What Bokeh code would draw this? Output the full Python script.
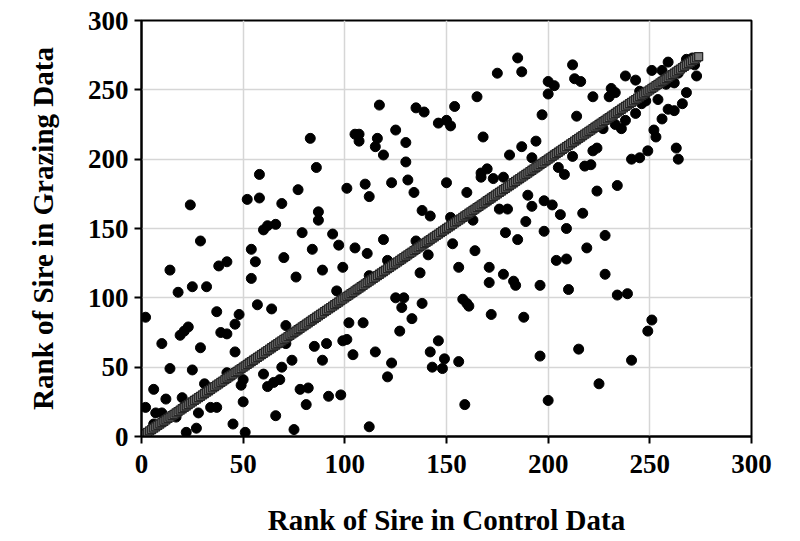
from bokeh.plotting import figure
from bokeh.models import FixedTicker, Range1d
from bokeh.embed import file_html
from bokeh.resources import INLINE

# Rank of sire in control data (x) and in grazing data (y)
control_rank = [83, 185, 175, 187, 200, 203, 200, 165, 117, 135, 139, 154, 197, 146, 150, 152,
                105, 107, 107, 116, 115, 125, 130, 119, 130, 168, 194, 187, 181, 192,
                212, 213, 216, 214, 222, 230, 231, 233, 238, 243, 245, 248, 246, 243, 238,
                233, 236, 227, 251, 256, 259, 260, 258, 262, 264, 268, 271, 272, 273, 268,
                254, 259, 262, 266, 256, 252, 253, 263, 249, 222, 224, 212, 241, 245, 264,
                205, 208, 218, 221, 234, 224, 198, 202, 206, 217, 198, 209, 228, 219, 204,
                209, 228, 196, 210, 234, 239, 251, 249, 215, 196, 241, 225, 200,
                125, 129, 128, 138, 158, 160, 161, 172, 188, 102, 109, 133, 127, 99, 101,
                104, 115, 146, 142, 149, 143, 148, 156, 123, 121, 98, 159, 112,
                101, 110, 112, 123, 131, 134, 138, 142, 150, 160, 167, 170, 167, 173, 178,
                152, 163, 176, 180, 190, 192, 189, 179, 185, 119, 135, 97, 105, 111, 141,
                153, 164, 121, 99, 112, 137, 156, 171, 178, 183, 184, 171, 96,
                86, 58, 77, 24, 52, 58, 69, 87, 87, 60, 62, 66, 79, 94, 29, 54, 84, 38, 42,
                56, 70, 14, 89, 54, 76, 18, 25, 32,
                2, 37, 48, 46, 57, 64, 71, 19, 21, 23, 39, 42, 10, 29, 46, 71, 85, 91, 89,
                74, 14, 25, 42, 50, 49, 60, 69, 62, 65, 68, 78, 82, 92, 81, 31, 6, 20, 12,
                2, 7, 10, 17, 28, 34, 37, 50, 6, 22, 27, 45, 66, 75, 51]
grazing_rank = [215, 273, 262, 263, 256, 253, 247, 245, 239, 237, 234, 238, 232, 226, 228, 224,
                218, 218, 213, 215, 209, 221, 212, 203, 198, 216, 213, 209, 203, 201,
                268, 258, 256, 231, 245, 245, 251, 248, 260, 257, 249, 242, 240, 233, 228,
                225, 222, 222, 264, 264, 270, 258, 254, 255, 262, 272, 273, 268, 260, 248,
                243, 236, 235, 240, 229, 221, 216, 208, 206, 206, 208, 202, 200, 201, 200,
                194, 189, 195, 196, 181, 177, 170, 167, 160, 161, 148, 150, 145, 136, 127,
                128, 117, 109, 106, 102, 103, 84, 76, 63, 58, 55, 38, 26,
                100, 100, 93, 96, 99, 96, 94, 88, 86, 82, 82, 85, 76, 69, 70,
                59, 61, 69, 61, 56, 50, 49, 54, 53, 43, 30, 23, 7,
                179, 182, 173, 183, 185, 176, 163, 159, 183, 176, 190, 193, 187, 186, 187,
                158, 156, 164, 164, 174, 166, 155, 147, 142, 142, 141, 138, 136, 132, 131,
                139, 134, 127, 122, 116, 118, 122, 122, 117, 112, 109, 111, 105,
                194, 189, 178, 167, 171, 172, 168, 162, 156, 149, 152, 153, 147, 146, 141, 135, 135, 123, 126,
                126, 129, 120, 120, 114, 115, 104, 108, 108,
                86, 90, 88, 81, 95, 92, 80, 73, 76, 79, 75, 74, 67, 64, 61, 67, 65, 67, 55,
                55, 49, 48, 46, 41, 37, 45, 50, 36, 39, 41, 34, 35, 29, 23, 38, 34, 28, 27,
                21, 17, 17, 14, 17, 21, 21, 25, 9, 3, 6, 9, 15, 5, 3]

# Equal-rank reference line (rank in control = rank in grazing), sires 0..274
n_sires = 275
diag = list(range(n_sires))

x_ticks = [0, 50, 100, 150, 200, 250, 300]
y_ticks = [0, 50, 100, 150, 200, 250, 300]

SERIF = "Liberation Serif"

p = figure(frame_width=610, frame_height=416,
           min_border_left=141, min_border_right=49, min_border_top=20, min_border_bottom=105,
           x_range=Range1d(0, 300), y_range=Range1d(0, 300),
           output_backend="svg", toolbar_location=None,
           background_fill_color="white", border_fill_color="white")

p.scatter(control_rank, grazing_rank, size=10, marker="circle",
          fill_color="black", line_color="black")
p.scatter(diag, diag, size=8, marker="square",
          fill_color="#7d7d7d", line_color="#262626", line_width=1.3)

p.outline_line_color = "black"
p.outline_line_width = 2

for g in (p.xgrid[0], p.ygrid[0]):
    g.grid_line_color = "#d6d6d6"
    g.grid_line_width = 1.5

for ax in (p.xaxis[0], p.yaxis[0]):
    ax.axis_line_color = "black"
    ax.axis_line_width = 2
    ax.major_tick_line_color = "black"
    ax.major_tick_line_width = 2
    ax.major_tick_in = 0
    ax.major_tick_out = 7
    ax.minor_tick_line_color = None
    ax.major_label_text_font = SERIF
    ax.major_label_text_font_style = "bold"
    ax.major_label_text_font_size = "27px"
    ax.major_label_text_color = "black"
    ax.axis_label_text_font = SERIF
    ax.axis_label_text_font_style = "bold"
    ax.axis_label_text_font_size = "29px"
    ax.axis_label_text_color = "black"

p.xaxis[0].ticker = FixedTicker(ticks=x_ticks)
p.yaxis[0].ticker = FixedTicker(ticks=y_ticks)
p.xaxis[0].axis_label = "Rank of Sire in Control Data"
p.yaxis[0].axis_label = "Rank of Sire in Grazing Data"
p.xaxis[0].major_label_standoff = 11
p.yaxis[0].major_label_standoff = 6
p.xaxis[0].axis_label_standoff = 28
p.yaxis[0].axis_label_standoff = 26

open("out.html", "w").write(file_html(p, INLINE))
